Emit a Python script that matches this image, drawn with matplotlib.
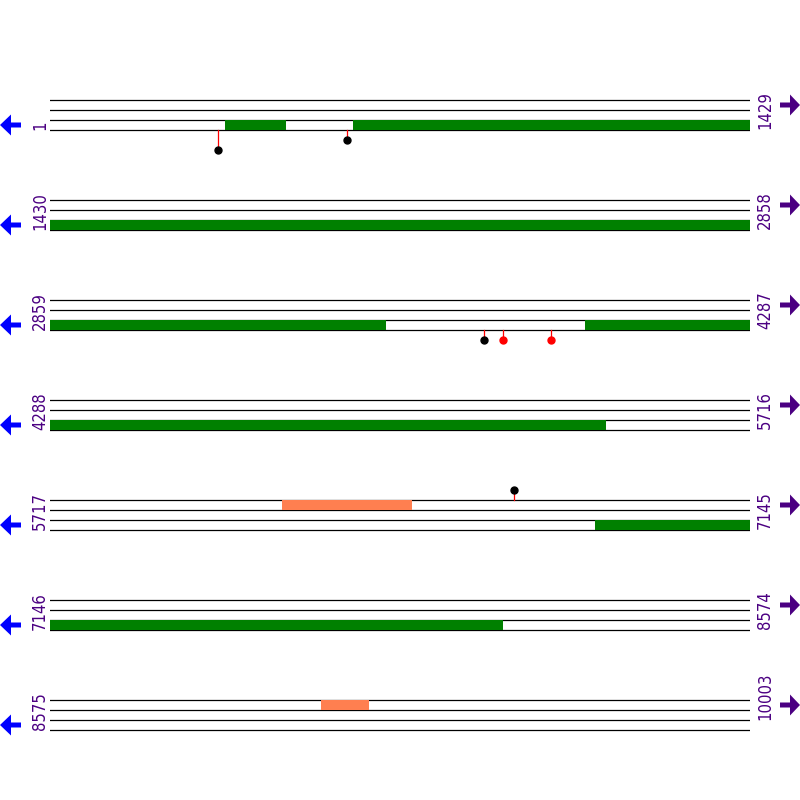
import matplotlib
matplotlib.use('Agg')
import matplotlib.pyplot as plt

plt.rcParams['font.family'] = ['DejaVu Sans']
plt.rcParams['font.stretch'] = 'condensed'

# sequence rows (1429 bases per row)
row_starts = [1, 1430, 2859, 4288, 5717, 7146, 8575]
row_ends = [1429, 2858, 4287, 5716, 7145, 8574, 10003]

# features: (start, end)  green on the lower track, orange on the upper track
green_bars = [(358, 482), (620, 3544), (3951, 5422), (6830, 8070)]
orange_bars = [(6190, 6455), (9128, 9225)]

# lollipops: position, tip offset, dot colour
lolli_pos = [343, 606, 3744, 3783, 3881, 6663]
lolli_tip = [50, 40, 40, 40, 40, -10]
lolli_col = ['black', 'black', 'black', 'red', 'red', 'black']

green = '#008000'
orange = '#FF7F50'
purple = '#4B0082'

fig = plt.figure(figsize=(8, 8), dpi=100)

# overlay axes in pixel units for arrows and labels
ov = fig.add_axes([0, 0, 1, 1])
ov.set_xlim(0, 800)
ov.set_ylim(800, 0)
ov.axis('off')

right_off = [29, 29, 29, 29, 29, 29, 20]

for i, (s, e) in enumerate(zip(row_starts, row_ends)):
    top = 100 + 100 * i
    ax = fig.add_axes([50 / 800, 1 - (top + 60) / 800, 700 / 800, 80 / 800])
    ax.set_xlim(s - 1, e)
    ax.set_ylim(60, -20)
    ax.axis('off')
    for t in [0, 10, 20, 30]:
        ax.plot([s - 1, e], [t, t], color='black', lw=0.9, zorder=1)

    for a, b in green_bars:
        a2, b2 = max(a, s), min(b, e)
        if a2 <= b2:
            ax.fill_between([a2 - 1, b2], 20, 30, color=green, lw=0, zorder=2)
    for a, b in orange_bars:
        a2, b2 = max(a, s), min(b, e)
        if a2 <= b2:
            ax.fill_between([a2 - 1, b2], 0, 10, color=orange, lw=0, zorder=2)

    for p, tip, c in zip(lolli_pos, lolli_tip, lolli_col):
        if s <= p <= e:
            base = 30 if tip > 0 else 0
            ax.plot([p, p], [base, tip], color='red', lw=0.9, zorder=3)
            ax.plot(p, tip, 'o', color=c, ms=5, zorder=4, clip_on=False)

    # labels
    ov.text(40, top + 30, str(s), rotation=90, ha='center', va='bottom',
            fontsize=12, color=purple)
    ov.text(765, top + right_off[i], str(e), rotation=90, ha='center', va='bottom',
            fontsize=12, color=purple)

    # arrows
    ov.arrow(21, top + 25, -21, 0, width=5, head_width=21, head_length=11,
             length_includes_head=True, color='#0000FF', lw=0)
    ov.arrow(780, top + 5, 20, 0, width=5, head_width=21, head_length=10,
             length_includes_head=True, color=purple, lw=0)

plt.savefig('out.png', dpi=100)
